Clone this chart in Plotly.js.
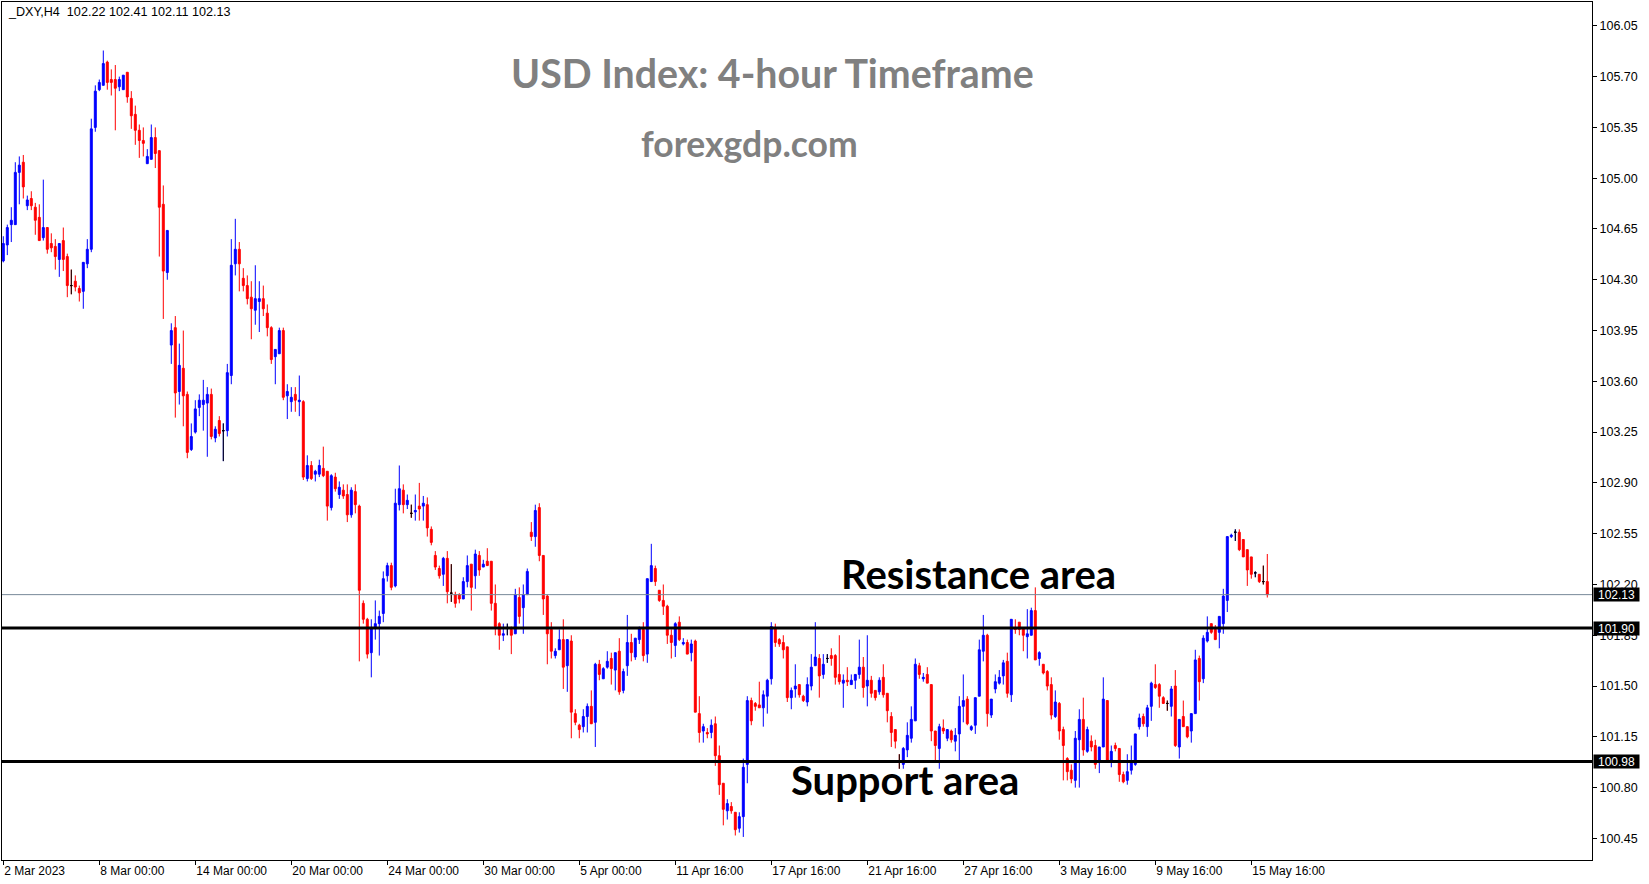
<!DOCTYPE html>
<html>
<head>
<meta charset="utf-8">
<script src="https://cdn.plot.ly/plotly-3.0.1.min.js"></script>
<style>
html,body{margin:0;padding:0;background:#ffffff;}
#chart{width:1649px;height:884px;}
</style>
</head>
<body>
<div id="chart"></div>
<script>
// ---- DXY H4 candles ----
const openP = [
104.43,104.54,104.68,104.68,105.04,105.11,104.81,104.86,104.80,104.73,
104.59,104.66,104.55,104.53,104.44,104.57,104.46,104.26,104.29,104.24,
104.22,104.41,104.51,105.35,105.61,105.64,105.80,105.68,105.68,105.63,
105.61,105.73,105.55,105.44,105.33,105.26,105.10,105.13,105.28,105.19,
104.82,104.35,103.85,103.97,103.53,103.69,103.51,103.13,103.25,103.42,
103.44,103.45,103.51,103.21,103.33,103.26,103.26,103.64,104.41,104.51,
104.31,104.26,104.18,104.09,104.15,104.17,104.07,103.97,103.77,103.79,
103.95,103.50,103.46,103.51,103.46,103.46,102.93,103.02,102.96,102.96,
103.00,102.98,102.73,102.94,102.82,102.85,102.82,102.68,102.84,102.74,
102.07,101.96,101.73,101.90,101.93,102.00,102.26,102.33,102.19,102.75,
102.85,102.75,102.69,102.70,102.74,102.74,102.75,102.58,102.40,102.31,
102.27,102.38,102.14,102.13,102.13,102.10,102.22,102.34,102.26,102.40,
102.32,102.36,102.36,102.07,101.93,101.85,101.90,101.89,101.86,102.11,
102.04,102.13,102.56,102.53,102.73,102.40,102.12,101.89,101.71,101.75,
101.82,101.64,101.81,101.31,101.23,101.22,101.29,101.36,101.25,101.65,
101.55,101.63,101.69,101.61,101.74,101.47,101.64,101.80,101.70,101.82,
101.89,101.72,102.22,102.31,102.16,102.09,102.05,101.85,101.78,101.94,
101.79,101.80,101.73,101.81,101.31,101.19,101.18,101.18,101.24,101.02,
100.83,100.64,100.67,100.63,100.52,100.60,100.96,101.40,101.38,101.37,
101.35,101.43,101.55,101.90,101.82,101.80,101.77,101.42,101.48,101.51,
101.43,101.39,101.50,101.64,101.69,101.58,101.69,101.71,101.71,101.58,
101.52,101.54,101.51,101.54,101.58,101.63,101.50,101.54,101.47,101.46,
101.56,101.45,101.29,101.20,100.98,100.96,101.06,101.14,101.26,101.64,
101.55,101.58,101.51,101.19,101.07,101.21,101.14,101.19,101.12,101.17,
101.36,101.41,101.20,101.23,101.43,101.74,101.85,101.30,101.48,101.52,
101.57,101.67,101.44,101.90,101.94,101.90,101.84,101.85,102.02,101.69,
101.65,101.60,101.51,101.29,101.38,101.20,101.00,100.92,100.85,101.13,
101.27,101.05,101.12,101.09,100.99,101.08,101.40,100.99,101.09,101.07,
100.89,100.85,100.92,100.96,101.22,101.29,101.22,101.36,101.51,101.51,
101.42,101.38,101.36,101.50,101.08,101.29,101.22,101.19,101.31,101.69,
101.55,101.81,101.93,101.89,101.87,101.93,102.09,102.53,102.56,102.56,
102.51,102.44,102.39,102.28,102.27,102.22,102.22
];
const highP = [
104.60,104.68,104.80,105.11,105.15,105.16,104.88,104.91,104.83,104.82,
104.99,104.66,104.62,104.58,104.55,104.66,104.48,104.37,104.33,104.26,
104.42,104.58,105.41,105.64,105.68,105.88,105.81,105.75,105.78,105.70,
105.71,105.73,105.60,105.50,105.37,105.35,105.20,105.37,105.35,105.19,
104.95,104.64,104.00,104.05,103.86,103.95,103.53,103.31,103.47,103.51,
103.61,103.56,103.55,103.29,103.36,103.31,103.72,104.58,104.72,104.56,
104.38,104.33,104.29,104.40,104.29,104.26,104.13,103.98,103.82,103.97,
103.97,103.58,103.56,103.56,103.64,103.47,103.09,103.05,102.99,103.06,
103.15,102.98,102.96,102.97,102.91,102.89,102.89,102.87,102.89,102.75,
102.09,101.97,101.96,102.09,102.02,102.29,102.35,102.35,102.86,103.02,
102.89,102.82,102.75,102.82,102.90,102.81,102.80,102.60,102.43,102.33,
102.39,102.43,102.34,102.15,102.14,102.25,102.40,102.34,102.44,102.43,
102.37,102.45,102.36,102.20,101.94,101.93,101.93,101.91,102.17,102.18,
102.20,102.31,102.63,102.75,102.76,102.40,102.13,101.94,101.76,101.89,
101.96,101.82,101.85,101.34,101.24,101.34,101.38,101.47,101.66,101.68,
101.63,101.74,101.73,101.73,101.83,101.62,101.99,101.86,101.83,101.91,
101.94,102.24,102.48,102.33,102.16,102.20,102.06,101.89,101.94,101.98,
101.83,101.82,101.82,101.82,101.43,101.24,101.21,101.27,101.29,101.09,
100.83,100.72,100.70,100.63,100.63,101.00,101.43,101.42,101.39,101.53,
101.47,101.55,101.94,101.93,101.83,101.85,101.77,101.49,101.65,101.51,
101.44,101.56,101.72,101.94,101.72,101.72,101.72,101.76,101.72,101.85,
101.58,101.63,101.58,101.58,101.82,101.70,101.85,101.57,101.47,101.56,
101.65,101.45,101.32,101.20,101.03,101.08,101.25,101.36,101.69,101.66,
101.59,101.63,101.51,101.19,101.24,101.27,101.20,101.20,101.21,101.43,
101.58,101.43,101.23,101.42,101.82,101.99,101.86,101.41,101.58,101.61,
101.68,101.73,101.96,101.96,101.94,101.90,102.03,102.04,102.18,101.74,
101.65,101.61,101.56,101.47,101.39,101.22,101.01,100.96,101.19,101.34,
101.42,101.22,101.16,101.13,101.08,101.56,101.40,101.09,101.11,101.07,
100.91,101.03,101.09,101.17,101.31,101.31,101.37,101.53,101.65,101.52,
101.43,101.40,101.50,101.61,101.27,101.40,101.22,101.31,101.75,101.71,
101.85,101.98,101.93,101.92,101.98,102.17,102.53,102.55,102.58,102.58,
102.51,102.44,102.39,102.29,102.27,102.33,102.41
];
const lowP = [
104.42,104.47,104.56,104.68,104.82,104.86,104.78,104.78,104.61,104.57,
104.57,104.48,104.49,104.37,104.32,104.36,104.18,104.20,104.22,104.15,
104.10,104.38,104.49,105.32,105.60,105.64,105.61,105.57,105.33,105.60,
105.61,105.52,105.34,105.23,105.14,105.15,105.10,105.13,105.07,104.46,
104.03,104.30,103.72,103.35,103.44,103.29,103.07,103.12,103.24,103.36,
103.26,103.08,103.20,103.18,103.22,103.05,103.22,103.58,104.33,104.22,
104.22,104.13,103.89,103.99,103.94,104.05,103.91,103.72,103.58,103.79,
103.47,103.34,103.39,103.39,103.36,102.92,102.91,102.92,102.91,102.94,
102.94,102.64,102.71,102.84,102.79,102.79,102.63,102.66,102.69,101.67,
101.93,101.69,101.56,101.82,101.71,101.94,102.22,102.16,102.18,102.71,
102.69,102.72,102.66,102.64,102.64,102.64,102.53,102.47,102.30,102.24,
102.19,102.07,102.08,102.04,102.07,102.10,102.18,102.02,102.17,102.26,
102.32,102.33,102.02,101.85,101.75,101.81,101.85,101.72,101.86,101.93,
101.86,102.13,102.50,102.46,102.36,101.99,101.65,101.69,101.69,101.75,
101.48,101.46,101.14,101.23,101.14,101.18,101.18,101.24,101.08,101.54,
101.55,101.62,101.51,101.47,101.44,101.45,101.57,101.67,101.68,101.79,
101.67,101.66,102.22,102.19,102.08,101.99,101.79,101.69,101.70,101.81,
101.78,101.72,101.67,101.32,101.11,101.11,101.14,101.14,100.95,100.75,
100.54,100.58,100.62,100.47,100.49,100.46,100.83,101.23,101.33,101.35,
101.22,101.31,101.51,101.77,101.77,101.69,101.39,101.34,101.42,101.42,
101.39,101.36,101.47,101.64,101.42,101.55,101.66,101.64,101.51,101.51,
101.35,101.50,101.51,101.48,101.55,101.42,101.36,101.42,101.40,101.44,
101.42,101.25,101.08,101.07,100.93,100.93,101.01,101.11,101.26,101.55,
101.53,101.52,101.12,100.99,100.93,101.17,101.12,101.11,101.05,100.99,
101.25,101.23,101.19,101.17,101.43,101.67,101.22,101.28,101.45,101.51,
101.51,101.42,101.39,101.86,101.85,101.74,101.69,101.85,101.68,101.64,
101.58,101.47,101.27,101.28,101.13,100.85,100.85,100.83,100.80,100.80,
101.02,101.04,101.05,100.93,100.90,101.08,100.985,100.94,101.05,100.84,
100.83,100.82,100.89,100.95,101.20,101.22,101.15,101.26,101.48,101.35,
101.38,101.33,101.29,101.08,101.00,101.22,101.14,101.11,101.31,101.40,
101.52,101.80,101.86,101.82,101.76,101.86,102.01,102.52,102.50,102.43,
102.39,102.19,102.24,102.25,102.21,102.20,102.11
];
const closeP = [
104.55,104.66,104.71,105.04,105.09,104.94,104.85,104.81,104.71,104.57,
104.66,104.51,104.52,104.46,104.55,104.44,104.26,104.26,104.25,104.21,
104.42,104.51,105.34,105.60,105.66,105.79,105.66,105.66,105.62,105.68,
105.71,105.56,105.43,105.33,105.26,105.24,105.15,105.28,105.17,104.80,
104.36,104.64,103.95,103.52,103.71,103.50,103.11,103.22,103.41,103.47,
103.47,103.51,103.22,103.27,103.24,103.26,103.66,104.40,104.51,104.41,
104.26,104.17,104.10,104.17,104.17,104.10,103.97,103.75,103.82,103.95,
103.49,103.53,103.49,103.47,103.47,102.94,103.02,102.93,102.98,103.02,
102.95,102.74,102.95,102.86,102.87,102.81,102.68,102.85,102.75,102.16,
101.96,101.72,101.90,101.93,101.98,102.24,102.33,102.18,102.76,102.86,
102.75,102.78,102.69,102.71,102.72,102.76,102.59,102.49,102.32,102.26,
102.38,102.15,102.14,102.07,102.10,102.22,102.33,102.18,102.41,102.30,
102.34,102.33,102.07,101.91,101.85,101.86,101.90,101.85,102.13,101.98,
102.13,102.29,102.53,102.71,102.40,102.10,101.86,101.74,101.74,101.82,
101.63,101.82,101.32,101.25,101.20,101.29,101.36,101.24,101.65,101.58,
101.62,101.67,101.62,101.73,101.46,101.60,101.80,101.73,101.83,101.90,
101.71,102.24,102.33,102.22,102.09,102.05,101.85,101.80,101.93,101.82,
101.80,101.72,101.79,101.32,101.18,101.22,101.17,101.23,101.02,100.82,
100.65,100.69,100.64,100.51,100.60,100.94,101.40,101.26,101.36,101.35,
101.44,101.54,101.91,101.80,101.79,101.75,101.42,101.47,101.50,101.44,
101.40,101.51,101.63,101.70,101.57,101.65,101.69,101.69,101.56,101.53,
101.54,101.53,101.54,101.58,101.63,101.49,101.54,101.45,101.42,101.54,
101.44,101.33,101.18,101.12,100.98,101.07,101.16,101.27,101.65,101.58,
101.56,101.52,101.19,101.09,101.22,101.19,101.20,101.13,101.16,101.36,
101.40,101.24,101.22,101.42,101.75,101.85,101.31,101.41,101.53,101.56,
101.66,101.45,101.96,101.89,101.89,101.85,101.86,102.02,101.68,101.73,
101.59,101.50,101.30,101.39,101.19,101.09,100.91,100.86,101.14,101.27,
101.06,101.20,101.08,100.96,101.08,101.41,100.99,101.05,101.07,100.89,
100.84,100.91,100.98,101.17,101.28,101.24,101.35,101.52,101.49,101.43,
101.38,101.38,101.48,101.09,101.27,101.22,101.15,101.31,101.68,101.53,
101.83,101.87,101.87,101.82,101.98,102.12,102.53,102.54,102.56,102.44,
102.39,102.30,102.27,102.28,102.22,102.22,102.13
];

// x-axis labels (candle index where each label sits)
const tickIdx = [0,24,48,72,96,120,144,168,192,216,240,264,288,312];
const tickLabels = ["2 Mar 2023","8 Mar 00:00","14 Mar 00:00","20 Mar 00:00","24 Mar 00:00",
  "30 Mar 00:00","5 Apr 00:00","11 Apr 16:00","17 Apr 16:00","21 Apr 16:00",
  "27 Apr 16:00","3 May 16:00","9 May 16:00","15 May 16:00"];
// price scale labels
const priceTicks = [100.45,100.80,101.15,101.50,101.85,102.20,102.55,102.90,103.25,103.60,103.95,104.30,104.65,105.00,105.35,105.70,106.05];
// levels
const resistanceLevel = 101.90;
const supportLevel = 100.98;
const symbolLabel = "_DXY,H4";
const titleText = "USD Index: 4-hour Timeframe";
const siteText = "forexgdp.com";
const resistanceText = "Resistance area";
const supportText = "Support area";

// ---- build traces ----
const idx = openP.map((_, i) => i);
const dojiX = [], dO = [], dH = [], dL = [], dC = [];
idx.forEach(i => {
  if (openP[i] === closeP[i]) { dojiX.push(i); dO.push(openP[i]); dH.push(highP[i]); dL.push(lowP[i]); dC.push(closeP[i]); }
});

const mainTrace = {
  type: 'candlestick',
  x: idx, open: openP, high: highP, low: lowP, close: closeP,
  increasing: {line: {color: '#0000ff', width: 1}, fillcolor: '#0000ff'},
  decreasing: {line: {color: '#ff0000', width: 1}, fillcolor: '#ff0000'},
  whiskerwidth: 0,
  hoverinfo: 'skip',
  showlegend: false
};
const dojiTrace = {
  type: 'candlestick',
  x: dojiX, open: dO, high: dH, low: dL, close: dC,
  increasing: {line: {color: '#000000', width: 1}, fillcolor: '#000000'},
  decreasing: {line: {color: '#000000', width: 1}, fillcolor: '#000000'},
  whiskerwidth: 0,
  hoverinfo: 'skip',
  showlegend: false
};

const W = 1649, H = 884;
const L = 2, R = 57, T = 2, B = 24;
const plotW = W - L - R, plotH = H - T - B;
const px = v => (v - L) / plotW;          // pixel x -> paper
const py = v => (H - B - v) / plotH;      // pixel y -> paper

const fmt = v => v.toFixed(2);
const last = closeP.length - 1;
const bidLevel = closeP[last];

const levelBox = (val) => ({
  xref: 'paper', yref: 'y', x: 1, y: val, xanchor: 'left', yanchor: 'middle',
  xshift: 1, text: fmt(val), showarrow: false,
  width: 45, height: 13, align: 'center',
  font: {family: 'Liberation Sans, Arial, sans-serif', size: 12, color: '#ffffff'},
  bgcolor: '#000000', borderpad: 0
});

const layout = {
  width: W, height: H,
  margin: {l: L, r: R, t: T, b: B, pad: 0},
  paper_bgcolor: '#ffffff', plot_bgcolor: '#ffffff',
  showlegend: false,
  xaxis: {
    type: 'linear',
    range: [-0.325, 397.175],
    rangeslider: {visible: false},
    showgrid: false, zeroline: false,
    showline: true, mirror: true, linecolor: '#000000', linewidth: 1,
    tickmode: 'array', tickvals: tickIdx, ticktext: tickLabels,
    ticks: 'outside', ticklen: 4, tickcolor: '#000000', tickwidth: 1,
    ticklabelposition: 'outside right',
    tickfont: {family: 'Liberation Sans, Arial, sans-serif', size: 12, color: '#000000'},
    fixedrange: true
  },
  yaxis: {
    side: 'right',
    range: [100.3011, 106.2143],
    showgrid: false, zeroline: false,
    showline: true, mirror: true, linecolor: '#000000', linewidth: 1,
    tickmode: 'array', tickvals: priceTicks, ticktext: priceTicks.map(fmt),
    ticks: 'outside', ticklen: 4, tickcolor: '#000000', tickwidth: 1,
    tickfont: {family: 'Liberation Sans, Arial, sans-serif', size: 12.5, color: '#000000'},
    fixedrange: true
  },
  shapes: [
    {type: 'line', xref: 'paper', yref: 'y', x0: 0, x1: 1, y0: bidLevel, y1: bidLevel,
     line: {color: '#778899', width: 1}, layer: 'above'},
    {type: 'line', xref: 'paper', yref: 'y', x0: 0, x1: 1, y0: resistanceLevel, y1: resistanceLevel,
     line: {color: '#000000', width: 3}, layer: 'above'},
    {type: 'line', xref: 'paper', yref: 'y', x0: 0, x1: 1, y0: supportLevel, y1: supportLevel,
     line: {color: '#000000', width: 3}, layer: 'above'}
  ],
  annotations: [
    {xref: 'paper', yref: 'paper', x: px(6), y: py(12), xanchor: 'left', yanchor: 'middle',
     text: symbolLabel + '  ' + [openP[last], highP[last], lowP[last], closeP[last]].map(fmt).join(' '),
     showarrow: false, font: {family: 'Liberation Sans, Arial, sans-serif', size: 12.6, color: '#000000'}},
    {xref: 'paper', yref: 'paper', x: px(772), y: py(72), xanchor: 'center', yanchor: 'middle',
     text: '<b>' + titleText + '</b>', showarrow: false,
     font: {family: 'Lato, Open Sans, sans-serif', size: 39.3, color: '#808080'}},
    {xref: 'paper', yref: 'paper', x: px(749), y: py(143), xanchor: 'center', yanchor: 'middle',
     text: '<b>' + siteText + '</b>', showarrow: false,
     font: {family: 'Lato, Open Sans, sans-serif', size: 35.5, color: '#808080'}},
    {xref: 'paper', yref: 'paper', x: px(978), y: py(574), xanchor: 'center', yanchor: 'middle',
     text: '<b>' + resistanceText + '</b>', showarrow: false,
     font: {family: 'Lato, Open Sans, sans-serif', size: 40, color: '#000000'}},
    {xref: 'paper', yref: 'paper', x: px(905), y: py(780), xanchor: 'center', yanchor: 'middle',
     text: '<b>' + supportText + '</b>', showarrow: false,
     font: {family: 'Lato, Open Sans, sans-serif', size: 40, color: '#000000'}},
    levelBox(bidLevel),
    levelBox(resistanceLevel),
    levelBox(supportLevel)
  ]
};

Plotly.newPlot('chart', [mainTrace, dojiTrace], layout, {staticPlot: true, displayModeBar: false});
</script>
</body>
</html>
